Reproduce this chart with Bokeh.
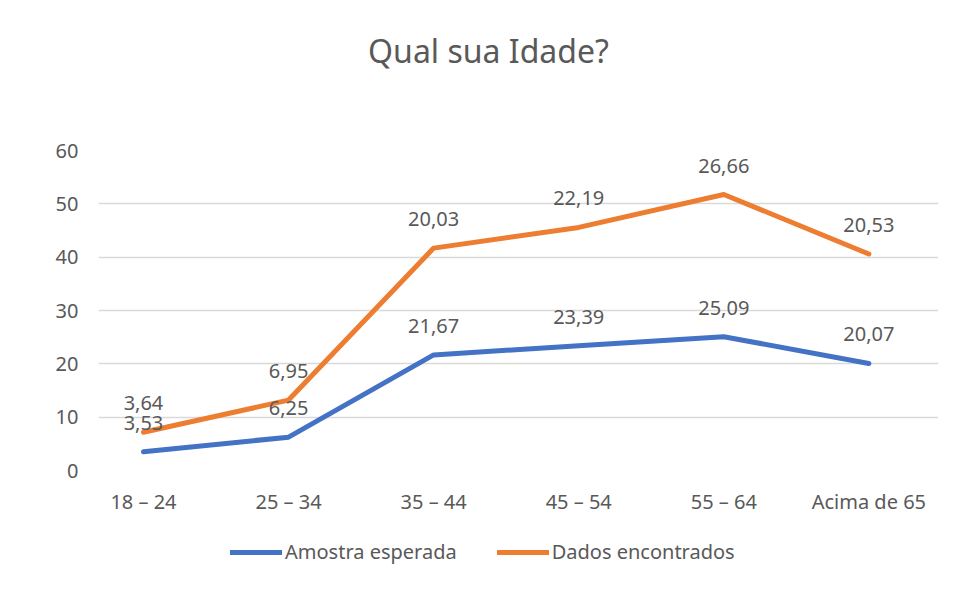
from bokeh.plotting import figure
from bokeh.layouts import column
from bokeh.models import Range1d, Legend, LegendItem, ColumnDataSource, FixedTicker, Label
from bokeh.core.properties import value
from bokeh.embed import file_html
from bokeh.resources import INLINE

categories = ["18 – 24", "25 – 34", "35 – 44", "45 – 54", "55 – 64", "Acima de 65"]
amostra = [3.53, 6.25, 21.67, 23.39, 25.09, 20.07]
dados = [3.64, 6.95, 20.03, 22.19, 26.66, 20.53]
y_ticks = [0, 10, 20, 30, 40, 50, 60]
series_names = ["Amostra esperada", "Dados encontrados"]
title_text = "Qual sua Idade?"

FONT = "Noto Sans"
GRAY = "#595959"
BLUE = "#4472C4"
ORANGE = "#ED7D31"
FS = "20px"

xs = list(range(len(categories)))
stacked = [a + d for a, d in zip(amostra, dados)]
fmt = lambda v: f"{v:.2f}".replace(".", ",")


def strip(height, xr, yr):
    f = figure(frame_width=840, frame_height=height, output_backend="svg", toolbar_location=None,
               x_range=xr, y_range=yr, x_axis_location=None, y_axis_location=None,
               min_border_left=98, min_border_right=8, min_border_top=0, min_border_bottom=0)
    f.outline_line_color = None
    f.grid.visible = False
    return f


# title strip (frame spans page x 98..938)
pt = strip(100, Range1d(98, 938), Range1d(0, 100))
pt.add_layout(Label(x=488, y=50, text=title_text, text_align="center", text_baseline="middle",
                    text_font=FONT, text_font_size="32px", text_color=GRAY))

# main chart
p = figure(frame_width=840, frame_height=320, output_backend="svg", toolbar_location=None,
           x_range=Range1d(-0.31, 5.48), y_range=Range1d(0, 60),
           min_border_left=98, min_border_right=8, min_border_top=50, min_border_bottom=50)
p.outline_line_color = None
p.xgrid.grid_line_color = None
p.ygrid.grid_line_color = "#D9D9D9"
p.ygrid.grid_line_width = 1.5

p.yaxis.ticker = FixedTicker(ticks=y_ticks)
p.yaxis.axis_line_color = None
p.yaxis.major_tick_line_color = None
p.yaxis.minor_tick_line_color = None
p.yaxis.major_label_text_font = FONT
p.yaxis.major_label_text_font_size = FS
p.yaxis.major_label_text_color = GRAY
p.yaxis.major_label_standoff = 14

p.xaxis.ticker = FixedTicker(ticks=xs)
p.xaxis.major_label_overrides = {i: c for i, c in enumerate(categories)}
p.xaxis.axis_line_color = None
p.xaxis.major_tick_line_color = None
p.xaxis.minor_tick_line_color = None
p.xaxis.major_label_text_font = FONT
p.xaxis.major_label_text_font_size = FS
p.xaxis.major_label_text_color = GRAY
p.xaxis.major_label_standoff = 11

p.line(xs, amostra, line_color=BLUE, line_width=5, line_cap="round", line_join="round")
p.line(xs, stacked, line_color=ORANGE, line_width=5, line_cap="round", line_join="round")

src1 = ColumnDataSource(dict(x=xs, y=amostra, t=[fmt(v) for v in amostra]))
src2 = ColumnDataSource(dict(x=xs, y=stacked, t=[fmt(v) for v in dados]))
for s in (src1, src2):
    p.text(x="x", y="y", text="t", source=s, text_align="center", text_baseline="middle",
           y_offset=-29, text_font=value(FONT), text_font_size=FS, text_color=GRAY)

# legend strip: same series drawn out of view, only their legend shows
pl = strip(72, Range1d(100, 101), Range1d(100, 101))
g1 = pl.line(xs, amostra, line_color=BLUE, line_width=5, line_cap="round")
g2 = pl.line(xs, stacked, line_color=ORANGE, line_width=5, line_cap="round")
legend = Legend(items=[LegendItem(label=series_names[0], renderers=[g1]),
                       LegendItem(label=series_names[1], renderers=[g2])],
                orientation="horizontal", location=(132, 27),
                label_text_font=FONT, label_text_font_size=FS, label_text_color=GRAY,
                glyph_width=52, label_standoff=3, spacing=40, border_line_color=None,
                background_fill_alpha=0, margin=0, padding=4)
pl.add_layout(legend)

layout = column(pt, p, pl, spacing=0)
open("out.html", "w").write(file_html(layout, INLINE))
